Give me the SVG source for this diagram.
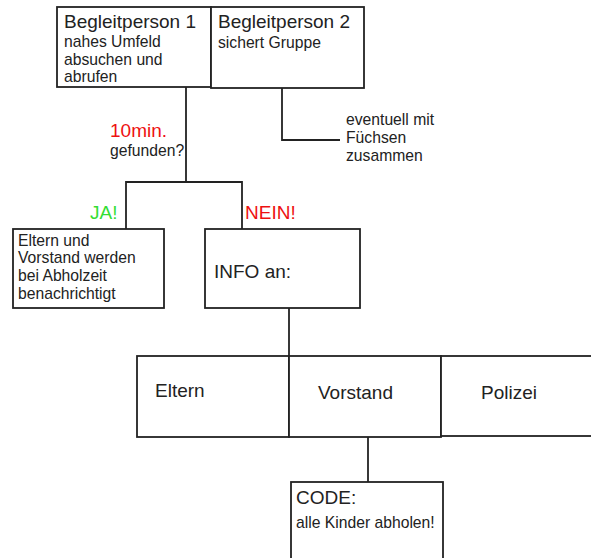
<svg xmlns="http://www.w3.org/2000/svg" width="591" height="558" viewBox="0 0 591 558">
<style>
.b{fill:#fff;stroke:#222;stroke-width:1.8}
.l{fill:none;stroke:#222;stroke-width:1.8}
text{font-family:"Liberation Sans",Arial,sans-serif;fill:#222}
.t{font-size:19px}
.s{font-size:15.7px}
.r{fill:#ee1111}
.g{fill:#33dd33}
</style>
<rect width="591" height="558" fill="#fff"/>
<g id="connectors">
<path class="l" d="M186 87V182M126 229V182H242V229"/>
<path class="l" d="M282 88V140H340"/>
<path class="l" d="M289 308V356"/>
<path class="l" d="M368 437V482"/>
</g>
<g id="bp1"><rect class="b" x="57" y="7" width="154" height="80"/>
<text class="t" x="64" y="28">Begleitperson 1</text>
<text class="s" x="64" y="47">nahes Umfeld</text>
<text class="s" x="64" y="65">absuchen und</text>
<text class="s" x="64" y="82">abrufen</text></g>
<g id="bp2"><rect class="b" x="211" y="7" width="153" height="81"/>
<text class="t" x="218" y="28">Begleitperson 2</text>
<text class="s" x="218" y="48">sichert Gruppe</text></g>
<g id="q"><text class="t r" x="110" y="137">10min.</text>
<text class="s" x="110" y="156">gefunden?</text></g>
<g id="fuechse"><text class="s" x="346" y="125">eventuell mit</text>
<text class="s" x="346" y="143">Füchsen</text>
<text class="s" x="346" y="161">zusammen</text></g>
<g id="ja"><text class="t g" x="90" y="219">JA!</text></g>
<g id="nein"><text class="t r" x="245" y="219">NEIN!</text></g>
<g id="eltern-info"><rect class="b" x="13" y="229" width="151" height="79"/>
<text class="s" x="18" y="246">Eltern und</text>
<text class="s" x="18" y="263">Vorstand werden</text>
<text class="s" x="18" y="281">bei Abholzeit</text>
<text class="s" x="18" y="299">benachrichtigt</text></g>
<g id="info"><rect class="b" x="205" y="229" width="155" height="79"/>
<text class="t" x="214" y="278">INFO an:</text></g>
<g id="eltern"><rect class="b" x="137" y="356" width="152" height="81"/>
<text class="t" x="155" y="397">Eltern</text></g>
<g id="vorstand"><rect class="b" x="289" y="356" width="152" height="81"/>
<text class="t" x="318" y="399">Vorstand</text></g>
<g id="polizei"><rect class="b" x="441" y="356" width="160" height="80"/>
<text class="t" x="481" y="399">Polizei</text></g>
<g id="code"><rect class="b" x="291" y="482" width="152" height="90"/>
<text class="t" x="296" y="504">CODE:</text>
<text class="s" x="296" y="528">alle Kinder abholen!</text></g>
</svg>
